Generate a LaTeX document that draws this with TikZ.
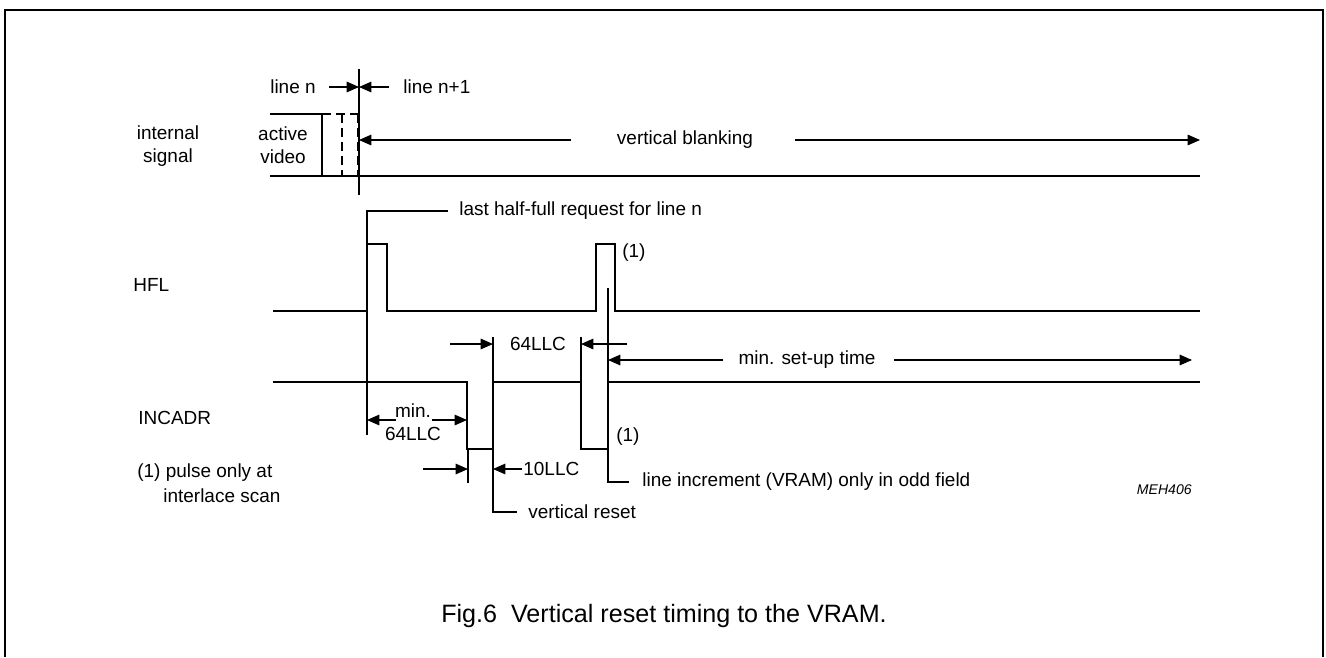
\documentclass[tikz,border=0pt]{standalone}
\usepackage{fontspec}
\setmainfont{Liberation Sans}
\usetikzlibrary{arrows.meta}
\begin{document}
\begin{tikzpicture}[x=0.02cm,y=-0.02cm,
  sig/.style={line width=1.6pt},
  thinln/.style={line width=0.6pt},
  dim/.style={line width=0.6pt,-{Triangle[length=7pt,width=6pt]}},
  lbl/.style={font=\fontsize{10.8}{13}\selectfont,inner sep=0pt},
  frameln/.style={line width=1.2pt}]
\useasboundingbox (0,0) rectangle (1326,657);
% frame
\draw[frameln] (5,657) -- (5,10) -- (1323,10) -- (1323,657);

% ---------- internal signal ----------
\draw[sig] (270,114) -- (322,114) -- (322,176);
\draw[sig] (270,176) -- (1200,176);
\draw[sig,dash pattern=on 5pt off 3pt] (322,114) -- (358,114);
\draw[sig,dash pattern=on 5pt off 3pt] (342,114) -- (342,176);
\draw[sig,dash pattern=on 5pt off 3pt] (358,114) -- (358,176);
\draw[thinln] (359,69) -- (359,195);
\coordinate (lnA) at (329,87); \coordinate (lnB) at (359,87); \coordinate (lnC) at (389,87);
\draw[dim] (lnA) -- (lnB);
\draw[dim] (lnC) -- (lnB);
\node[lbl] (tlinen) at (293,87) {line n};
\node[lbl,anchor=west] (tlinen1) at (403,87) {line n+1};
\node[lbl,align=center] (tactive) at (283,145) {active\\video};
\node[lbl,align=center] (tinternal) at (168,146) {internal\\signal};
\node[lbl] (tvb) at (685,140) {vertical blanking};
\coordinate (vbL) at (359,140); \coordinate (vbR) at (1200,140);
\draw[dim] (571,140) -- (vbL);
\draw[dim] (795,140) -- (vbR);

% ---------- HFL ----------
\node[lbl,anchor=west] (thfl) at (133,285) {HFL};
\draw[sig] (273,311) -- (367,311) -- (367,244) -- (387,244) -- (387,311)
  -- (596,311) -- (596,244) -- (615,244) -- (615,311) -- (1200,311);
\node[lbl,anchor=west] (tone1) at (622,253) {(1)};
\coordinate (lhA) at (367,244); \coordinate (lhB) at (367,211); \coordinate (lhC) at (448,211);
\draw[thinln] (lhA) -- (lhB) -- (lhC);
\node[lbl,anchor=west] (tlast) at (459,211) {last half-full request for line n};
\draw[thinln] (367,311) -- (367,435);
\draw[thinln] (608,288) -- (608,482) -- (629,482);
\node[lbl,anchor=west] (tlineinc) at (642,482) {line increment (VRAM) only in odd field};

% ---------- INCADR ----------
\node[lbl,anchor=west] (tinc) at (138,418) {INCADR};
\draw[sig] (273,382) -- (467,382) -- (467,449) -- (493,449) -- (493,382)
  -- (581,382) -- (581,449) -- (608,449) -- (608,382) -- (1200,382);
\node[lbl,anchor=west] (tone2) at (616,437) {(1)};
% min 64LLC
\node[lbl,align=center] (tmin) at (413,422) {min.\\64LLC};
\coordinate (mL) at (367,420); \coordinate (mR) at (467,420);
\draw[dim] (396,420) -- (mL);
\draw[dim] (432,420) -- (mR);
% 64LLC top
\draw[thinln] (493,337) -- (493,382);
\draw[thinln] (581,337) -- (581,382);
\coordinate (tL) at (493,344); \coordinate (tR) at (581,344);
\draw[dim] (450,344) -- (tL);
\draw[dim] (627,344) -- (tR);
\node[lbl] (t64) at (538,344) {64LLC};
% set-up time
\coordinate (suL) at (608,360); \coordinate (suR) at (1192,360);
\draw[dim] (723,360) -- (suL);
\draw[dim] (894,360) -- (suR);
\node[lbl] (tsetup) at (807,360) {min. set-up time};
% 10LLC
\draw[thinln] (468,449) -- (468,483);
\draw[thinln] (493,449) -- (493,512) -- (517,512);
\coordinate (aL) at (468,469); \coordinate (aR) at (493,469);
\draw[dim] (423,469) -- (aL);
\draw[dim] (522,469) -- (aR);
\node[lbl,anchor=west] (t10) at (523,469) {10LLC};
\node[lbl,anchor=west] (tvr) at (528,512) {vertical reset};

% notes
\node[lbl,anchor=west] (tnote1) at (137,473) {(1) pulse only at};
\node[lbl,anchor=west] (tnote2) at (163,496) {interlace scan};
\node[font=\fontsize{8}{10}\selectfont\itshape,inner sep=0pt,anchor=east] (tmeh) at (1192,490) {MEH406};
\node[font=\fontsize{14.3}{17}\selectfont,inner sep=0pt] (tcap) at (664,616) {Fig.6\ \ Vertical reset timing to the VRAM.};
\end{tikzpicture}
\end{document}
